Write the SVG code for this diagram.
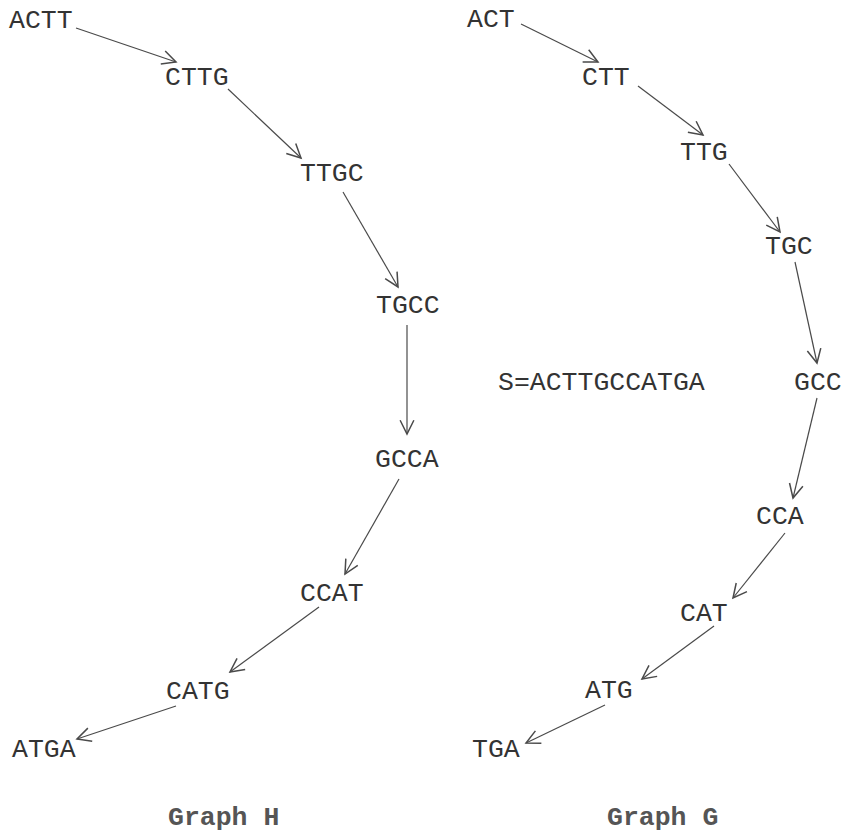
<svg xmlns="http://www.w3.org/2000/svg" width="845" height="832" viewBox="0 0 845 832">
<defs>
<style>
.n{font-family:"Liberation Mono","Courier New",monospace;font-size:26.5px;fill:#333}
.t{font-family:"Liberation Mono","Courier New",monospace;font-size:26.5px;font-weight:bold;fill:#555}
.e{stroke:#4a4a4a;stroke-width:1.2;fill:none;marker-end:url(#ah)}
</style>
<marker id="ah" markerUnits="userSpaceOnUse" markerWidth="20" markerHeight="20" viewBox="-12 -8 14 16" refX="0" refY="0" orient="auto">
<path d="M-11,-5.5 L0,0 L-11,5.5" fill="none" stroke="#4a4a4a" stroke-width="1.2"/>
</marker>
</defs>
<rect width="845" height="832" fill="#fff"/>
<g id="connectors">
<line class="e" x1="76" y1="28" x2="176" y2="62"/>
<line class="e" x1="228" y1="89" x2="301" y2="158"/>
<line class="e" x1="343" y1="192" x2="398" y2="287"/>
<line class="e" x1="407" y1="325" x2="407" y2="434"/>
<line class="e" x1="399" y1="479" x2="345" y2="574"/>
<line class="e" x1="319" y1="607" x2="230" y2="672"/>
<line class="e" x1="176" y1="706" x2="77" y2="739"/>
<line class="e" x1="521" y1="24" x2="598" y2="62"/>
<line class="e" x1="638" y1="86" x2="703" y2="135"/>
<line class="e" x1="729" y1="164" x2="780" y2="232"/>
<line class="e" x1="795" y1="262" x2="817" y2="363"/>
<line class="e" x1="817" y1="398" x2="793" y2="498"/>
<line class="e" x1="785" y1="533" x2="733" y2="598"/>
<line class="e" x1="714" y1="626" x2="642" y2="679"/>
<line class="e" x1="605" y1="705" x2="526" y2="743"/>
</g>
<g id="H-ACTT"><text class="n" x="9" y="28">ACTT</text></g>
<g id="H-CTTG"><text class="n" x="165" y="85">CTTG</text></g>
<g id="H-TTGC"><text class="n" x="300" y="181">TTGC</text></g>
<g id="H-TGCC"><text class="n" x="376" y="313">TGCC</text></g>
<g id="H-GCCA"><text class="n" x="375" y="467">GCCA</text></g>
<g id="H-CCAT"><text class="n" x="300" y="601">CCAT</text></g>
<g id="H-CATG"><text class="n" x="166" y="699">CATG</text></g>
<g id="H-ATGA"><text class="n" x="12" y="757">ATGA</text></g>
<g id="G-ACT"><text class="n" x="467" y="27">ACT</text></g>
<g id="G-CTT"><text class="n" x="582" y="85">CTT</text></g>
<g id="G-TTG"><text class="n" x="680" y="160">TTG</text></g>
<g id="G-TGC"><text class="n" x="765" y="254">TGC</text></g>
<g id="G-GCC"><text class="n" x="794" y="390">GCC</text></g>
<g id="G-CCA"><text class="n" x="756" y="524">CCA</text></g>
<g id="G-CAT"><text class="n" x="680" y="621">CAT</text></g>
<g id="G-ATG"><text class="n" x="585" y="698">ATG</text></g>
<g id="G-TGA"><text class="n" x="472" y="757">TGA</text></g>
<g id="seq"><text class="n" x="498" y="390">S=ACTTGCCATGA</text></g>
<g id="title-H"><text class="t" x="168" y="825">Graph H</text></g>
<g id="title-G"><text class="t" x="607" y="825">Graph G</text></g>
</svg>
